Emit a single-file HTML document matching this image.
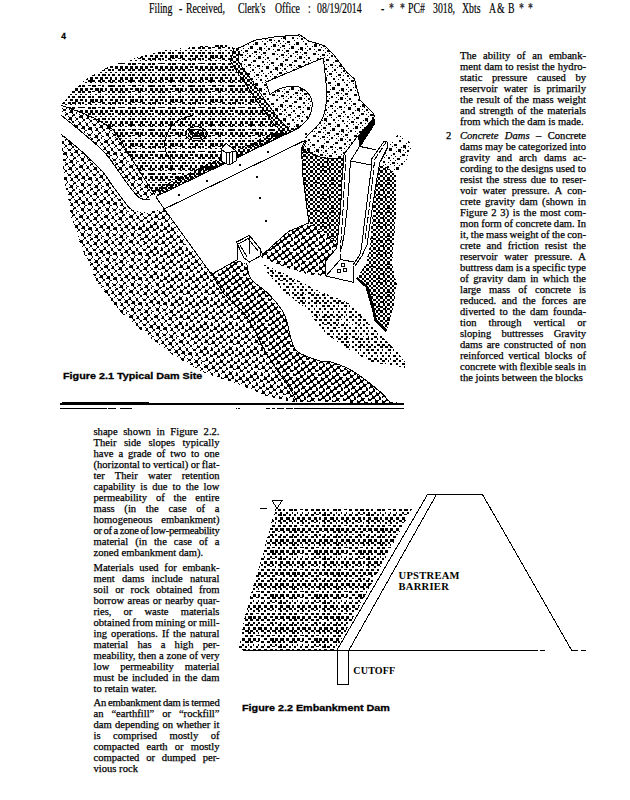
<!DOCTYPE html>
<html lang="en"><head><meta charset="utf-8"><title>Filing</title>
<style>
html,body{margin:0;padding:0;background:#fff;}
body{width:630px;height:800px;position:relative;overflow:hidden;font-family:"Liberation Serif",serif;color:#000;}
.hd{position:absolute;top:-0.3px;-webkit-text-stroke:0.2px #000;left:0;font-size:14.4px;line-height:16px;white-space:nowrap;transform-origin:0 0;transform:scaleX(0.68);}
.col{position:absolute;width:126px;font-size:10.6px;line-height:11px;-webkit-text-stroke:0.25px #000;}
.col div{height:11px;white-space:nowrap;text-align:justify;text-align-last:justify;}
.col div.l{text-align-last:left;}
.col div.gap{height:3.55px;}
.cap{position:absolute;font-family:"Liberation Sans",sans-serif;font-weight:bold;font-size:9.8px;line-height:12px;white-space:nowrap;transform-origin:0 0;transform:scaleX(1.10);-webkit-text-stroke:0.3px #000;}
.lab{position:absolute;font-family:"Liberation Serif",serif;font-weight:bold;font-size:10.5px;line-height:12px;white-space:nowrap;letter-spacing:0.3px;}
svg{position:absolute;left:0;top:0;}
</style></head><body>
<svg width="630" height="800" viewBox="0 0 630 800" shape-rendering="crispEdges"><defs><pattern id="pw" width="40" height="44" patternUnits="userSpaceOnUse"><path d="M0 0h3v3h-3zM5 0h3v3h-3zM10 0h3v2h-3zM15 0h4v3h-4zM20 0h3v3h-3zM25 0h2v3h-2zM30 0h3v3h-3zM35 0h3v3h-3zM2 3h3v2h-3zM8 3h3v2h-3zM12 3h3v1h-3zM18 3h3v2h-3zM22 3h3v1h-3zM28 3h2v2h-2zM32 3h3v2h-3zM38 3h3v2h-3zM-2 3h3v2h-3zM0 6h2v1h-2zM5 6h2v1h-2zM10 6h1v1h-1zM15 6h2v1h-2zM20 6h1v1h-1zM25 6h2v1h-2zM30 6h2v1h-2zM35 6h2v1h-2zM2 8h3v2h-3zM8 8h3v2h-3zM12 8h2v2h-2zM18 8h3v2h-3zM22 8h2v2h-2zM28 8h2v2h-2zM32 8h3v2h-3zM38 8h3v2h-3zM-2 8h3v2h-3zM0 11h3v2h-3zM5 11h2v3h-2zM10 11h4v3h-4zM15 11h3v3h-3zM20 11h3v3h-3zM25 11h2v2h-2zM30 11h3v2h-3zM35 11h3v3h-3zM2 14h2v2h-2zM8 14h3v2h-3zM12 14h3v1h-3zM18 14h3v1h-3zM22 14h3v2h-3zM28 14h3v2h-3zM32 14h4v2h-4zM38 14h3v2h-3zM-2 14h3v2h-3zM0 16h1v1h-1zM5 16h2v1h-2zM10 16h2v1h-2zM15 16h2v1h-2zM20 16h1v1h-1zM25 16h2v1h-2zM30 16h2v1h-2zM35 16h1v1h-1zM2 19h3v1h-3zM8 19h3v2h-3zM12 19h4v2h-4zM18 19h3v1h-3zM22 19h3v2h-3zM28 19h3v2h-3zM32 19h3v2h-3zM38 19h4v1h-4zM-2 19h4v1h-4zM0 22h3v3h-3zM5 22h3v3h-3zM10 22h3v3h-3zM15 22h3v3h-3zM20 22h3v3h-3zM25 22h3v3h-3zM30 22h3v2h-3zM35 22h3v3h-3zM2 25h3v2h-3zM8 25h3v2h-3zM12 25h3v2h-3zM18 25h3v2h-3zM22 25h3v2h-3zM28 25h3v2h-3zM32 25h2v2h-2zM38 25h3v2h-3zM-2 25h3v2h-3zM0 28h1v1h-1zM5 28h2v1h-2zM10 28h2v1h-2zM15 28h2v1h-2zM20 28h2v1h-2zM25 28h2v1h-2zM30 28h2v1h-2zM35 28h2v1h-2zM2 30h3v2h-3zM8 30h3v2h-3zM12 30h3v2h-3zM18 30h2v2h-2zM22 30h4v2h-4zM28 30h2v2h-2zM32 30h3v2h-3zM38 30h2v2h-2zM0 33h3v3h-3zM5 33h3v3h-3zM10 33h3v3h-3zM15 33h3v2h-3zM20 33h3v3h-3zM25 33h3v2h-3zM30 33h2v3h-2zM35 33h2v3h-2zM2 36h2v2h-2zM8 36h4v2h-4zM12 36h3v2h-3zM18 36h3v2h-3zM22 36h3v2h-3zM28 36h3v2h-3zM32 36h3v2h-3zM38 36h3v2h-3zM-2 36h3v2h-3zM0 38h2v1h-2zM5 38h2v1h-2zM10 38h2v1h-2zM15 38h1v1h-1zM20 38h2v1h-2zM25 38h2v1h-2zM30 38h3v1h-3zM35 38h2v1h-2zM2 41h3v2h-3zM8 41h3v1h-3zM12 41h4v2h-4zM18 41h3v1h-3zM22 41h2v2h-2zM28 41h4v2h-4zM32 41h3v2h-3zM38 41h3v2h-3zM-2 41h3v2h-3z"/></pattern><pattern id="pw2" width="44" height="44" patternUnits="userSpaceOnUse"><path d="M0 0h3v3h-3zM6 0h3v2h-3zM11 0h3v3h-3zM16 0h4v3h-4zM22 0h4v3h-4zM28 0h4v3h-4zM33 0h3v3h-3zM38 0h3v3h-3zM3 3h3v2h-3zM8 3h3v2h-3zM14 3h2v1h-2zM19 3h2v2h-2zM25 3h3v2h-3zM30 3h3v2h-3zM36 3h3v2h-3zM41 3h3v2h-3zM0 6h2v1h-2zM6 6h3v2h-3zM11 6h2v2h-2zM16 6h2v2h-2zM22 6h2v2h-2zM28 6h2v2h-2zM33 6h2v2h-2zM38 6h2v2h-2zM3 8h3v2h-3zM8 8h2v2h-2zM14 8h3v2h-3zM19 8h3v2h-3zM25 8h4v2h-4zM30 8h3v2h-3zM36 8h2v2h-2zM41 8h3v2h-3zM0 11h3v3h-3zM6 11h2v3h-2zM11 11h3v3h-3zM16 11h4v3h-4zM22 11h3v3h-3zM28 11h2v3h-2zM33 11h3v3h-3zM38 11h4v3h-4zM3 14h3v2h-3zM8 14h4v2h-4zM14 14h3v2h-3zM19 14h3v2h-3zM25 14h4v2h-4zM30 14h3v2h-3zM36 14h2v2h-2zM41 14h3v2h-3zM0 16h2v2h-2zM6 16h1v2h-1zM11 16h2v2h-2zM16 16h2v2h-2zM22 16h2v2h-2zM28 16h3v2h-3zM33 16h2v2h-2zM38 16h1v2h-1zM3 19h3v2h-3zM8 19h3v1h-3zM14 19h2v2h-2zM19 19h2v2h-2zM25 19h3v2h-3zM30 19h3v2h-3zM36 19h4v1h-4zM41 19h3v2h-3zM0 22h3v2h-3zM6 22h4v3h-4zM11 22h3v3h-3zM16 22h4v3h-4zM22 22h3v3h-3zM28 22h3v3h-3zM33 22h3v3h-3zM38 22h2v3h-2zM3 25h3v2h-3zM8 25h4v2h-4zM14 25h3v2h-3zM19 25h2v2h-2zM25 25h4v2h-4zM30 25h3v2h-3zM36 25h3v1h-3zM41 25h3v2h-3zM0 28h1v2h-1zM6 28h2v2h-2zM11 28h2v2h-2zM16 28h2v2h-2zM22 28h2v2h-2zM28 28h1v2h-1zM33 28h1v2h-1zM38 28h1v2h-1zM3 30h3v2h-3zM8 30h3v1h-3zM14 30h4v2h-4zM19 30h3v2h-3zM25 30h2v2h-2zM30 30h2v2h-2zM36 30h2v2h-2zM41 30h3v2h-3zM0 33h3v3h-3zM6 33h3v3h-3zM11 33h2v3h-2zM16 33h3v3h-3zM22 33h4v3h-4zM28 33h2v3h-2zM33 33h3v3h-3zM38 33h3v3h-3zM3 36h3v2h-3zM8 36h2v2h-2zM14 36h3v2h-3zM19 36h3v2h-3zM25 36h3v2h-3zM30 36h2v2h-2zM36 36h3v2h-3zM41 36h2v2h-2zM0 38h2v2h-2zM6 38h2v1h-2zM11 38h1v2h-1zM16 38h2v2h-2zM22 38h2v2h-2zM28 38h1v2h-1zM33 38h2v2h-2zM38 38h2v2h-2zM3 41h3v2h-3zM8 41h3v2h-3zM14 41h3v2h-3zM19 41h3v2h-3zM25 41h3v2h-3zM30 41h3v2h-3zM36 41h3v1h-3zM41 41h3v2h-3z"/></pattern><pattern id="pl" width="25" height="25" patternUnits="userSpaceOnUse"><path d="M0 0h3v3h-3zM2 3h1v1h-1zM3 24h1v1h-1zM1 18h2v2h-2zM3 21h1v1h-1zM4 17h1v1h-1zM2 11h2v1h-2zM4 14h1v1h-1zM1 12h1v1h-1zM3 4h2v2h-2zM5 7h1v1h-1zM6 3h1v1h-1zM4 22h2v3h-2zM6 0h1v1h-1zM7 21h1v1h-1zM5 15h3v3h-3zM7 18h1v1h-1zM8 14h1v1h-1zM4 16h1v1h-1zM6 8h3v3h-3zM8 11h1v1h-1zM9 7h1v1h-1zM7 1h3v3h-3zM9 4h1v1h-1zM8 19h2v2h-2zM10 22h1v1h-1zM11 18h1v1h-1zM9 12h2v2h-2zM11 15h1v1h-1zM12 11h1v1h-1zM10 5h2v1h-2zM12 8h1v1h-1zM13 4h1v1h-1zM9 6h1v1h-1zM11 23h2v3h-2zM11 -2h2v3h-2zM13 1h1v1h-1zM14 22h1v1h-1zM12 16h2v3h-2zM14 19h1v1h-1zM15 15h1v1h-1zM13 9h3v2h-3zM15 12h1v1h-1zM16 8h1v1h-1zM14 2h3v3h-3zM16 5h1v1h-1zM13 3h1v1h-1zM15 20h2v2h-2zM17 23h1v1h-1zM18 19h1v1h-1zM16 13h2v2h-2zM18 16h1v1h-1zM19 12h1v1h-1zM15 14h1v1h-1zM17 6h1v2h-1zM19 9h1v1h-1zM20 5h1v1h-1zM18 24h3v2h-3zM18 -1h3v2h-3zM20 2h1v1h-1zM21 23h1v1h-1zM19 17h3v3h-3zM21 20h1v1h-1zM22 16h1v1h-1zM20 10h3v3h-3zM22 13h1v1h-1zM23 9h1v1h-1zM21 3h2v3h-2zM23 6h1v1h-1zM24 2h1v1h-1zM22 21h2v2h-2zM24 24h1v1h-1zM0 20h1v1h-1zM23 14h2v2h-2zM0 17h1v1h-1zM1 13h1v1h-1zM22 15h1v1h-1zM24 7h2v2h-2zM-1 7h2v2h-2zM1 10h1v1h-1zM2 6h1v1h-1zM23 8h1v1h-1z"/></pattern><pattern id="pl2" width="25" height="25" patternUnits="userSpaceOnUse"><path d="M0 0h3v3h-3zM3 3h1v1h-1zM3 24h1v1h-1zM24 2h1v1h-1zM1 18h2v2h-2zM4 21h1v1h-1zM4 17h1v1h-1zM2 11h3v2h-3zM5 14h1v1h-1zM5 10h1v1h-1zM3 4h3v2h-3zM6 7h1v1h-1zM6 3h1v1h-1zM4 22h3v3h-3zM7 0h1v1h-1zM7 21h1v1h-1zM3 24h1v1h-1zM5 15h3v3h-3zM8 18h1v1h-1zM8 14h1v1h-1zM4 17h1v1h-1zM6 8h2v3h-2zM9 11h1v1h-1zM9 7h1v1h-1zM5 10h1v1h-1zM7 1h2v3h-2zM10 4h1v1h-1zM10 0h1v1h-1zM6 3h1v1h-1zM8 19h3v1h-3zM11 22h1v1h-1zM11 18h1v1h-1zM9 12h3v2h-3zM12 15h1v1h-1zM8 14h1v1h-1zM10 5h3v2h-3zM13 8h1v1h-1zM13 4h1v1h-1zM11 23h2v3h-2zM11 -2h2v3h-2zM14 1h1v1h-1zM14 22h1v1h-1zM10 0h1v1h-1zM12 16h3v3h-3zM15 19h1v1h-1zM15 15h1v1h-1zM11 18h1v1h-1zM13 9h2v3h-2zM16 12h1v1h-1zM16 8h1v1h-1zM12 11h1v1h-1zM14 2h3v3h-3zM17 5h1v1h-1zM17 1h1v1h-1zM15 20h3v2h-3zM18 23h1v1h-1zM18 19h1v1h-1zM14 22h1v1h-1zM16 13h3v2h-3zM19 16h1v1h-1zM19 12h1v1h-1zM15 15h1v1h-1zM17 6h3v2h-3zM20 9h1v1h-1zM20 5h1v1h-1zM18 24h2v3h-2zM18 -1h2v3h-2zM21 2h1v1h-1zM21 23h1v1h-1zM17 1h1v1h-1zM19 17h3v2h-3zM22 20h1v1h-1zM20 10h3v3h-3zM23 13h1v1h-1zM23 9h1v1h-1zM21 3h3v3h-3zM24 6h1v1h-1zM24 2h1v1h-1zM22 21h3v2h-3zM0 24h1v1h-1zM0 20h1v1h-1zM21 23h1v1h-1zM23 14h3v2h-3zM-2 14h3v2h-3zM1 17h1v1h-1zM1 13h1v1h-1zM22 16h1v1h-1zM24 7h2v2h-2zM-1 7h2v2h-2zM2 10h1v1h-1zM2 6h1v1h-1zM23 9h1v1h-1z"/></pattern><pattern id="pd" width="28" height="28" patternUnits="userSpaceOnUse"><path d="M0 0h2v2h-2zM5 0h2v2h-2zM9 0h3v2h-3zM14 0h2v2h-2zM19 0h2v2h-2zM21 0h1v2h-1zM23 0h3v2h-3zM2 2h3v3h-3zM7 2h2v3h-2zM12 2h2v3h-2zM14 2h2v1h-2zM16 2h3v3h-3zM21 2h2v3h-2zM26 2h2v3h-2zM0 5h2v2h-2zM5 5h2v2h-2zM9 5h3v2h-3zM14 5h2v2h-2zM19 5h2v2h-2zM23 5h3v2h-3zM2 7h3v2h-3zM7 7h2v2h-2zM12 7h2v2h-2zM16 7h3v2h-3zM21 7h2v2h-2zM26 7h2v2h-2zM0 9h2v3h-2zM5 9h2v3h-2zM9 9h3v3h-3zM14 9h2v3h-2zM19 9h2v3h-2zM23 9h3v3h-3zM2 12h3v2h-3zM7 12h2v2h-2zM12 12h2v2h-2zM16 12h3v2h-3zM21 12h2v2h-2zM23 12h3v1h-3zM26 12h2v2h-2zM0 14h2v2h-2zM5 14h2v2h-2zM7 14h2v1h-2zM9 14h3v2h-3zM14 14h2v2h-2zM19 14h2v2h-2zM23 14h3v2h-3zM2 16h3v3h-3zM7 16h2v3h-2zM12 16h2v3h-2zM14 16h2v1h-2zM16 16h3v3h-3zM21 16h2v3h-2zM23 16h3v1h-3zM26 16h2v3h-2zM0 19h2v2h-2zM5 19h2v2h-2zM9 19h3v2h-3zM14 19h2v2h-2zM19 19h2v2h-2zM23 19h3v2h-3zM2 21h3v2h-3zM7 21h2v2h-2zM12 21h2v2h-2zM16 21h3v2h-3zM19 21h1v2h-1zM21 21h2v2h-2zM26 21h2v2h-2zM0 23h2v3h-2zM5 23h2v3h-2zM9 23h3v3h-3zM14 23h2v3h-2zM19 23h2v3h-2zM23 23h3v3h-3zM2 26h3v2h-3zM7 26h2v2h-2zM12 26h2v2h-2zM14 26h2v1h-2zM16 26h3v2h-3zM21 26h2v2h-2zM26 26h2v2h-2z"/></pattern><pattern id="pr" width="41" height="41" patternUnits="userSpaceOnUse"><path d="M0 0h3v2h-3zM2 3h1v1h-1zM1 32h3v2h-3zM3 35h1v1h-1zM4 30h1v1h-1zM2 23h3v2h-3zM4 26h1v1h-1zM5 21h1v1h-1zM7 24h1v1h-1zM3 14h2v2h-2zM6 12h1v1h-1zM8 15h1v1h-1zM4 5h3v3h-3zM7 3h1v1h-1zM5 37h2v2h-2zM7 40h1v1h-1zM8 35h1v1h-1zM10 38h1v1h-1zM6 28h2v2h-2zM8 31h1v1h-1zM9 26h1v1h-1zM7 19h3v2h-3zM10 17h1v1h-1zM8 10h3v2h-3zM10 13h1v1h-1zM11 8h1v1h-1zM13 11h1v1h-1zM9 1h3v3h-3zM10 33h3v2h-3zM12 36h1v1h-1zM13 31h1v1h-1zM15 34h1v1h-1zM11 24h3v2h-3zM13 27h1v1h-1zM16 25h1v1h-1zM12 15h3v3h-3zM15 13h1v1h-1zM17 16h1v1h-1zM13 6h3v3h-3zM15 9h1v1h-1zM18 7h1v1h-1zM14 38h2v2h-2zM16 0h1v1h-1zM19 39h1v1h-1zM15 29h2v2h-2zM17 32h1v1h-1zM16 20h2v2h-2zM18 23h1v1h-1zM19 18h1v1h-1zM21 21h1v1h-1zM17 11h3v2h-3zM19 14h1v1h-1zM20 9h1v1h-1zM18 2h2v2h-2zM20 5h1v1h-1zM21 0h1v1h-1zM19 34h2v2h-2zM21 37h1v1h-1zM22 32h1v1h-1zM24 35h1v1h-1zM20 25h3v3h-3zM23 23h1v1h-1zM21 16h2v2h-2zM23 19h1v1h-1zM22 7h2v2h-2zM25 5h1v1h-1zM27 8h1v1h-1zM23 39h3v2h-3zM25 1h1v1h-1zM26 37h1v1h-1zM28 40h1v1h-1zM24 30h2v2h-2zM26 33h1v1h-1zM27 28h1v1h-1zM25 21h3v2h-3zM27 24h1v1h-1zM26 12h3v2h-3zM29 10h1v1h-1zM31 13h1v1h-1zM27 3h3v3h-3zM30 1h1v1h-1zM32 4h1v1h-1zM28 35h3v2h-3zM31 33h1v1h-1zM29 26h3v3h-3zM31 29h1v1h-1zM32 24h1v1h-1zM34 27h1v1h-1zM30 17h2v2h-2zM33 15h1v1h-1zM31 8h3v2h-3zM34 6h1v1h-1zM36 9h1v1h-1zM32 40h2v2h-2zM32 -1h2v2h-2zM34 2h1v1h-1zM35 38h1v1h-1zM37 0h1v1h-1zM33 31h3v2h-3zM36 29h1v1h-1zM38 32h1v1h-1zM34 22h3v3h-3zM36 25h1v1h-1zM37 20h1v1h-1zM39 23h1v1h-1zM35 13h3v2h-3zM37 16h1v1h-1zM38 11h1v1h-1zM40 14h1v1h-1zM36 4h3v2h-3zM38 7h1v1h-1zM39 2h1v1h-1zM37 36h3v3h-3zM39 39h1v1h-1zM40 34h1v1h-1zM38 27h2v2h-2zM40 30h1v1h-1zM0 25h1v1h-1zM39 18h3v2h-3zM-2 18h3v2h-3zM1 16h1v1h-1zM40 9h3v2h-3zM-1 9h3v2h-3zM1 12h1v1h-1zM2 7h1v1h-1z"/></pattern><pattern id="pb" width="25" height="25" patternUnits="userSpaceOnUse"><path d="M0 0h3v3h-3zM3 0h1v1h-1zM3 3h1v1h-1zM1 18h3v3h-3zM4 18h1v1h-1zM4 21h1v1h-1zM0 20h1v1h-1zM2 11h3v3h-3zM5 11h1v1h-1zM5 14h1v1h-1zM1 13h1v1h-1zM3 4h3v3h-3zM6 4h1v1h-1zM6 7h1v1h-1zM2 6h1v1h-1zM4 22h2v3h-2zM7 22h1v1h-1zM7 0h1v1h-1zM5 15h3v3h-3zM8 15h1v1h-1zM8 18h1v1h-1zM4 17h1v1h-1zM6 8h3v2h-3zM9 8h1v1h-1zM9 11h1v1h-1zM7 1h3v3h-3zM10 1h1v1h-1zM10 4h1v1h-1zM6 3h1v1h-1zM8 19h3v3h-3zM11 19h1v1h-1zM11 22h1v1h-1zM7 21h1v1h-1zM9 12h3v3h-3zM12 12h1v1h-1zM8 14h1v1h-1zM10 5h3v3h-3zM13 5h1v1h-1zM13 8h1v1h-1zM9 7h1v1h-1zM11 23h3v3h-3zM11 -2h3v3h-3zM14 23h1v1h-1zM14 1h1v1h-1zM10 0h1v1h-1zM12 16h3v3h-3zM15 16h1v1h-1zM15 19h1v1h-1zM11 18h1v1h-1zM13 9h3v3h-3zM16 9h1v1h-1zM16 12h1v1h-1zM12 11h1v1h-1zM14 2h3v3h-3zM17 2h1v1h-1zM17 5h1v1h-1zM13 4h1v1h-1zM15 20h3v2h-3zM18 20h1v1h-1zM18 23h1v1h-1zM16 13h2v3h-2zM19 13h1v1h-1zM19 16h1v1h-1zM17 6h3v3h-3zM20 6h1v1h-1zM20 9h1v1h-1zM18 24h3v2h-3zM18 -1h3v2h-3zM21 24h1v1h-1zM21 2h1v1h-1zM19 17h3v3h-3zM22 17h1v1h-1zM22 20h1v1h-1zM20 10h3v3h-3zM23 10h1v1h-1zM23 13h1v1h-1zM19 12h1v1h-1zM21 3h3v3h-3zM24 3h1v1h-1zM24 6h1v1h-1zM20 5h1v1h-1zM22 21h3v3h-3zM0 21h1v1h-1zM0 24h1v1h-1zM21 23h1v1h-1zM23 14h2v3h-2zM1 14h1v1h-1zM1 17h1v1h-1zM22 16h1v1h-1zM24 7h3v3h-3zM-1 7h3v3h-3zM2 7h1v1h-1zM2 10h1v1h-1zM23 9h1v1h-1z"/></pattern><pattern id="pv" width="44" height="44" patternUnits="userSpaceOnUse"><path d="M0 0h2v2h-2zM6 0h1v2h-1zM11 0h2v2h-2zM16 0h2v2h-2zM22 0h3v2h-3zM28 0h2v2h-2zM33 0h2v2h-2zM38 0h1v2h-1zM3 3h2v2h-2zM8 3h3v2h-3zM14 3h1v2h-1zM19 3h2v2h-2zM25 3h1v2h-1zM30 3h2v2h-2zM36 3h2v2h-2zM41 3h3v2h-3zM0 6h2v2h-2zM6 6h3v2h-3zM11 6h1v2h-1zM16 6h3v2h-3zM22 6h3v2h-3zM28 6h2v2h-2zM33 6h2v2h-2zM38 6h1v2h-1zM3 8h2v2h-2zM8 8h2v2h-2zM14 8h3v2h-3zM19 8h3v2h-3zM25 8h2v2h-2zM30 8h3v2h-3zM36 8h1v2h-1zM41 8h3v2h-3zM0 11h2v2h-2zM6 11h3v2h-3zM11 11h3v2h-3zM16 11h3v2h-3zM22 11h2v2h-2zM28 11h3v2h-3zM33 11h1v1h-1zM38 11h2v2h-2zM3 14h2v2h-2zM8 14h1v2h-1zM14 14h2v2h-2zM19 14h3v2h-3zM25 14h3v2h-3zM30 14h1v2h-1zM36 14h1v2h-1zM41 14h1v1h-1zM0 16h1v1h-1zM6 16h2v2h-2zM11 16h2v2h-2zM16 16h3v1h-3zM22 16h2v2h-2zM28 16h2v2h-2zM33 16h3v2h-3zM38 16h2v2h-2zM3 19h2v2h-2zM8 19h2v2h-2zM14 19h2v2h-2zM19 19h2v2h-2zM25 19h3v2h-3zM30 19h2v1h-2zM36 19h2v2h-2zM41 19h2v2h-2zM0 22h3v2h-3zM6 22h1v2h-1zM11 22h2v2h-2zM16 22h1v2h-1zM22 22h3v2h-3zM28 22h2v2h-2zM33 22h2v2h-2zM38 22h2v2h-2zM3 25h2v2h-2zM8 25h2v2h-2zM14 25h2v2h-2zM19 25h3v2h-3zM25 25h1v2h-1zM30 25h2v2h-2zM36 25h3v2h-3zM41 25h2v2h-2zM0 28h3v2h-3zM6 28h1v2h-1zM11 28h1v1h-1zM16 28h1v2h-1zM22 28h3v2h-3zM28 28h2v2h-2zM33 28h2v2h-2zM38 28h2v2h-2zM3 30h3v2h-3zM8 30h3v2h-3zM14 30h3v2h-3zM19 30h2v2h-2zM25 30h1v2h-1zM30 30h3v2h-3zM36 30h3v2h-3zM41 30h1v1h-1zM0 33h2v2h-2zM6 33h3v2h-3zM11 33h2v2h-2zM16 33h2v2h-2zM22 33h3v2h-3zM28 33h2v2h-2zM33 33h3v2h-3zM38 33h3v2h-3zM3 36h2v2h-2zM8 36h3v2h-3zM14 36h2v2h-2zM19 36h2v2h-2zM25 36h3v2h-3zM30 36h3v2h-3zM36 36h3v2h-3zM41 36h1v2h-1zM0 38h2v2h-2zM6 38h3v2h-3zM11 38h2v2h-2zM16 38h3v2h-3zM22 38h2v2h-2zM28 38h3v2h-3zM33 38h3v2h-3zM38 38h3v2h-3zM3 41h2v2h-2zM8 41h1v2h-1zM14 41h3v2h-3zM19 41h3v2h-3zM25 41h2v2h-2zM30 41h1v2h-1zM36 41h3v2h-3zM41 41h1v2h-1z"/></pattern></defs>
<polygon points="61.2,105.2 71.7,91.8 87.6,77.7 109.8,66.3 135.2,58.0 167.0,50.0 198.7,46.4 225.0,44.8 236.7,48.9 234.4,61.0 240.0,70.0 251.0,85.6 264.4,105.6 277.8,123.3 286.7,131.0 286.7,133.5 155.7,196.7 154.8,194.8 149.7,187.0 140.8,173.2 128.0,152.9 121.0,141.0 112.9,130.0 103.3,123.0 88.0,115.4 61.2,105.2" fill="url(#pw)" stroke="none" stroke-width="1" />
<polygon points="61.2,105.2 88.0,115.4 103.3,123.0 112.9,130.0 121.0,141.0 128.0,152.9 140.8,173.2 149.7,187.0 154.8,194.8 149.7,199.8 140.8,198.6 131.9,189.7 121.7,175.7 105.5,153.5 91.9,140.8 75.4,126.8 61.2,115.4" fill="url(#pl)" stroke="none" stroke-width="1" />
<polygon points="61.2,134.4 75.4,145.9 88.0,157.3 102.7,171.9 115.4,189.7 128.0,206.2 132.0,210.0 147.0,212.9 160.5,211.0 164.3,209.0 189.0,247.6 211.0,272.0 224.4,294.4 246.7,316.7 264.4,350.0 280.0,374.4 291.0,390.0 297.0,402.0 293.0,402.0 266.7,396.0 240.0,385.0 205.0,373.0 173.3,355.6 144.8,333.3 119.4,311.0 97.1,282.5 81.3,247.6 71.7,219.0 68.6,200.0 63.8,178.7" fill="url(#pl)" stroke="none" stroke-width="1" />
<polygon points="150.0,212.0 164.3,209.0 189.0,247.6 211.0,272.0 224.4,294.4 246.7,316.7 264.4,350.0 280.0,374.4 291.0,390.0 297.0,402.0 293.0,402.0 266.7,396.0 240.0,385.0 215.0,376.0 185.0,335.0 155.0,275.0 138.0,225.0" fill="#fff" stroke="none" stroke-width="1" />
<polygon points="150.0,212.0 164.3,209.0 189.0,247.6 211.0,272.0 224.4,294.4 246.7,316.7 264.4,350.0 280.0,374.4 291.0,390.0 297.0,402.0 293.0,402.0 266.7,396.0 240.0,385.0 215.0,376.0 185.0,335.0 155.0,275.0 138.0,225.0" fill="url(#pl2)" stroke="none" stroke-width="1" />
<polygon points="211.0,272.0 224.4,294.4 246.7,316.7 264.4,350.0 280.0,374.4 291.0,390.0 297.0,402.0 400.0,403.0 388.0,400.0 378.7,390.5 353.3,371.4 331.0,362.0 320.0,361.0 297.8,352.0 291.0,339.0 284.4,314.4 269.0,294.4 251.0,279.0 246.7,263.3 237.0,260.0 211.4,274.3" fill="url(#pb)" stroke="none" stroke-width="1" />
<polygon points="236.7,48.9 255.6,40.0 275.6,36.7 300.0,34.9 308.9,41.1 324.4,45.6 333.3,54.4 346.7,72.2 354.4,78.9 360.0,100.0 373.3,113.3 374.4,116.7 358.9,136.7 344.4,154.4 343.0,159.0 322.0,157.8 302.0,150.0 305.7,142.9 300.0,128.6 286.7,131.0 277.8,123.3 264.4,105.6 251.0,85.6 240.0,70.0 234.4,61.0" fill="url(#pr)" stroke="#000" stroke-width="1" />
<path d="M265.6 82.2 L323.3 57.8L323.3 57.8C323.5 59.5 323.8 61.3 324.4 67.8C325.0 74.3 327.1 88.2 326.7 96.7C326.3 105.2 325.2 112.6 322.2 118.9C319.2 125.2 312.8 130.3 308.9 134.4C305.0 138.5 300.6 141.8 298.9 143.3L286.7 131.1C288.6 130.5 294.3 129.8 297.8 127.8C301.3 125.8 305.4 122.6 307.8 118.9C310.2 115.2 312.0 109.7 312.2 105.6C312.4 101.5 311.3 97.6 308.9 94.4C306.5 91.2 302.2 87.8 297.8 86.7C293.4 85.6 286.8 86.5 282.2 87.8C277.6 89.1 272.0 93.3 270.0 94.4Z" fill="#fff" stroke="none" stroke-width="1"/>
<polyline points="265.6,82.2 323.3,57.8" fill="none" stroke="#000" stroke-width="1" />
<path d="M323.3 57.8C323.5 59.5 323.8 61.3 324.4 67.8C325.0 74.3 327.1 88.2 326.7 96.7C326.3 105.2 325.2 112.6 322.2 118.9C319.2 125.2 312.8 130.3 308.9 134.4C305.0 138.5 300.6 141.8 298.9 143.3" fill="none" stroke="#000" stroke-width="1" />
<path d="M270.0 94.4C272.0 93.3 277.6 89.1 282.2 87.8C286.8 86.5 293.4 85.6 297.8 86.7C302.2 87.8 306.5 91.2 308.9 94.4C311.3 97.6 312.4 101.5 312.2 105.6C312.0 109.7 310.2 115.2 307.8 118.9C305.4 122.6 301.3 125.8 297.8 127.8C294.3 129.8 288.6 130.5 286.7 131.1" fill="none" stroke="#000" stroke-width="1" />
<polyline points="265.6,82.2 270.0,94.4" fill="none" stroke="#000" stroke-width="1" />
<polygon points="301.4,146.0 322.0,157.8 343.0,159.0 344.1,154.1 342.0,180.0 340.5,210.0 336.7,248.0 325.9,260.8 325.9,276.0 309.0,274.6 283.5,266.7 261.0,257.0 262.9,254.3 288.6,231.4 309.0,222.9 306.5,205.0 303.0,177.0" fill="url(#pd)" stroke="none" stroke-width="1" />
<polygon points="309.0,222.9 337.5,243.0 336.7,248.0 325.9,260.8 325.9,276.0 309.0,274.6 283.5,266.7 261.0,257.0 262.9,254.3 288.6,231.4" fill="#fff" stroke="none" stroke-width="1" />
<polygon points="309.0,222.9 337.5,243.0 336.7,248.0 325.9,260.8 325.9,276.0 309.0,274.6 283.5,266.7 261.0,257.0 262.9,254.3 288.6,231.4" fill="url(#pb)" stroke="none" stroke-width="1" />
<polygon points="379.7,163.0 395.6,173.3 396.5,200.0 395.6,220.0 392.0,264.0 396.7,284.0 393.0,309.0 386.7,331.0 375.6,320.0 373.0,309.0 366.7,286.7 357.0,277.3 365.9,263.3 369.5,248.0 373.0,210.0 375.0,190.0" fill="url(#pd)" stroke="none" stroke-width="1" />
<polygon points="387.8,144.4 397.8,134.4 413.3,144.4 404.4,164.4 395.6,173.3 380.0,164.4" fill="url(#pr)" stroke="none" stroke-width="1" />
<polygon points="261.0,263.5 283.5,273.0 315.0,289.0 353.0,304.8 372.0,327.0 397.8,352.0 407.0,365.0 404.0,368.0 372.0,362.0 347.0,349.0 324.8,333.0 305.7,308.0 283.5,292.0 267.6,273.0" fill="url(#pv)" stroke="none" stroke-width="1" />
<polygon points="164.3,209.0 305.7,140.0 301.4,148.6 303.0,177.0 306.5,205.0 309.0,222.9 288.6,231.4 262.9,254.3 258.0,246.0 250.0,236.0 237.0,243.0 237.0,260.0 211.4,274.3" fill="#fff" stroke="#000" stroke-width="1" />
<polygon points="357.5,136.3 384.0,141.0 387.3,142.0 388.0,146.5 379.7,163.0 375.0,190.0 373.0,210.0 369.5,248.0 365.9,263.3 357.0,277.3 353.8,282.4 325.9,276.0 325.9,260.8 336.7,248.0 340.5,210.0 342.0,180.0 344.1,154.1" fill="#fff" stroke="none" stroke-width="1" />
<polygon points="374.4,116.7 374.8,124.4 360.6,146.5 357.5,136.3" fill="#000" stroke="none" stroke-width="1" />
<polygon points="155.7,196.7 300.0,127.5 305.7,140.0 164.3,209.0" fill="#fff" stroke="none" stroke-width="1" />
<polyline points="155.7,196.7 300.0,127.5" fill="none" stroke="#000" stroke-width="1" />
<polyline points="164.3,209.0 305.7,140.0" fill="none" stroke="#000" stroke-width="1" />
<polyline points="155.7,196.7 164.3,209.0" fill="none" stroke="#000" stroke-width="1" />
<line x1="156" y1="192.5" x2="289" y2="129" stroke="url(#pd)" stroke-width="7"/>
<path d="M61.2 105.2C65.7 106.9 81.0 112.4 88.0 115.4C95.0 118.4 99.1 120.6 103.3 123.0C107.5 125.4 110.0 127.0 112.9 130.0C115.9 133.0 118.5 137.2 121.0 141.0C123.5 144.8 124.7 147.5 128.0 152.9C131.3 158.3 137.2 167.5 140.8 173.2C144.4 178.9 147.4 183.4 149.7 187.0C152.0 190.6 154.0 193.5 154.8 194.8" fill="none" stroke="#000" stroke-width="1" />
<path d="M61.2 115.4C63.6 117.3 70.3 122.6 75.4 126.8C80.5 131.0 86.9 136.4 91.9 140.8C96.9 145.2 100.5 147.7 105.5 153.5C110.5 159.3 117.3 169.7 121.7 175.7C126.1 181.7 128.7 185.9 131.9 189.7C135.1 193.5 137.8 196.9 140.8 198.6C143.8 200.3 148.2 199.6 149.7 199.8" fill="none" stroke="#000" stroke-width="1" />
<path d="M61.2 134.4C63.6 136.3 70.9 142.1 75.4 145.9C79.9 149.7 83.5 153.0 88.0 157.3C92.5 161.6 98.1 166.5 102.7 171.9C107.3 177.3 111.2 184.0 115.4 189.7C119.6 195.4 125.2 202.8 128.0 206.2C130.8 209.6 131.3 209.4 132.0 210.0" fill="none" stroke="#000" stroke-width="1" />
<polyline points="236.7,50.0 234.4,61.0 240.0,70.0 251.0,85.6 264.4,105.6 277.8,123.3 286.7,131.0" fill="none" stroke="#fff" stroke-width="7"/>
<polyline points="236.7,50.0 234.4,61.0 240.0,70.0 251.0,85.6 264.4,105.6 277.8,123.3 286.7,131.0" fill="none" stroke="url(#pd)" stroke-width="7"/>
<polyline points="233.3,49.3 230.9,61.6 237.1,72.0 248.1,87.6 261.5,107.6 275.2,125.6 284.4,133.6" fill="none" stroke="#000" stroke-width="1" />
<polyline points="240.1,50.7 237.9,60.4 242.9,68.0 253.9,83.6 267.3,103.6 280.4,121.0 289.0,128.4" fill="none" stroke="#000" stroke-width="1" />
<polyline points="357.5,136.3 344.1,154.1 342.0,180.0 340.5,210.0 336.7,248.0 325.9,260.8 325.9,276.0 353.8,282.4 353.8,265.9" fill="none" stroke="#000" stroke-width="1" />
<polyline points="346.0,155.0 344.5,180.0 343.0,210.0 340.5,248.0 340.5,259.5" fill="none" stroke="#000" stroke-width="1" stroke-dasharray="7 2"/>
<polyline points="357.5,136.3 359.4,138.0 359.4,146.5 350.5,161.1 348.5,190.0 347.0,210.0 344.0,235.0 341.5,249.0" fill="none" stroke="#000" stroke-width="1" />
<polyline points="384.0,141.4 372.0,158.6 371.4,168.0 368.5,190.0 366.0,210.0 361.4,248.0 360.0,254.4 353.2,264.6" fill="none" stroke="#000" stroke-width="1" />
<polyline points="386.7,141.2 374.6,159.8 371.5,190.0 369.0,210.0 365.0,240.0" fill="none" stroke="#000" stroke-width="1" stroke-dasharray="6 2"/>
<polyline points="384.0,141.4 387.3,142.0 388.0,146.5 379.7,163.0 375.0,190.0 372.0,210.0 367.0,245.0 362.0,255.7 355.0,265.9" fill="none" stroke="#000" stroke-width="1" />
<polyline points="360.0,146.5 375.9,149.7" fill="none" stroke="#000" stroke-width="1" />
<polyline points="351.0,161.0 370.8,165.0" fill="none" stroke="#000" stroke-width="1" />
<polyline points="325.9,276.0 340.5,259.5 353.8,262.0" fill="none" stroke="#000" stroke-width="1" />
<rect x="341" y="263" width="3" height="3" fill="none" stroke="#000" stroke-width="1"/>
<rect x="337" y="269.5" width="3" height="3" fill="none" stroke="#000" stroke-width="1"/>
<rect x="343.5" y="268.5" width="3" height="3" fill="none" stroke="#000" stroke-width="1"/>
<path d="M246.7 263.3C247.4 265.9 247.3 273.8 251.0 279.0C254.7 284.2 263.4 288.5 269.0 294.4C274.6 300.3 280.7 307.0 284.4 314.4C288.1 321.8 288.8 332.7 291.0 339.0C293.2 345.3 293.0 348.3 297.8 352.0C302.6 355.7 314.5 359.3 320.0 361.0C325.5 362.7 325.4 360.3 331.0 362.0C336.6 363.7 345.4 366.6 353.3 371.4C361.2 376.1 372.9 385.7 378.7 390.5C384.5 395.3 386.4 398.4 388.0 400.0" fill="none" stroke="#000" stroke-width="1" />
<polyline points="356.7,278.0 366.7,286.7 373.0,309.0 375.6,320.0 386.7,331.0" fill="none" stroke="#000" stroke-width="2.5" />
<path d="M211.0 272.0C213.2 275.7 218.5 286.9 224.4 294.4C230.3 301.8 240.0 307.4 246.7 316.7C253.4 326.0 258.8 340.4 264.4 350.0C269.9 359.6 275.6 367.7 280.0 374.4C284.4 381.1 288.2 385.4 291.0 390.0C293.8 394.6 296.0 400.0 297.0 402.0" fill="none" stroke="#000" stroke-width="1" />
<ellipse cx="196.2" cy="133.7" rx="10.8" ry="7" fill="none" stroke="#000"/><ellipse cx="196.2" cy="134" rx="7.5" ry="4.6" fill="none" stroke="#000"/>
<path d="M192 131l3 4l3-3l3 4M193 136h7" fill="none" stroke="#000" stroke-width="1.5"/>
<path d="M193.0 115.2C190.2 116.3 180.9 118.2 176.5 121.6C172.1 125.0 168.1 130.7 166.3 135.6C164.5 140.5 164.6 146.4 165.7 150.8C166.8 155.2 171.5 160.3 172.7 162.2" fill="none" stroke="#000" stroke-width="1" />
<polygon points="221.0,149.0 226.0,143.5 231.0,147.0 236.0,151.0 236.0,161.0 229.0,165.0 221.0,161.0" fill="#fff" stroke="#000" stroke-width="1" />
<polyline points="221.0,149.0 226.0,153.0 236.0,151.0" fill="none" stroke="#000" stroke-width="1" />
<polyline points="226.0,153.0 226.0,163.0" fill="none" stroke="#000" stroke-width="1" />
<polyline points="229.5,152.5 229.5,164.0" fill="none" stroke="#000" stroke-width="1" />
<polyline points="232.5,152.0 232.5,163.0" fill="none" stroke="#000" stroke-width="1" />
<polygon points="236.4,242.1 249.3,235.5 260.2,248.8 260.2,256.0 249.5,262.0 244.0,258.0" fill="#fff" stroke="#000" stroke-width="1" />
<polyline points="238.5,244.0 248.0,238.5 258.5,251.5" fill="none" stroke="#000" stroke-width="1" />
<polyline points="249.3,235.5 249.3,253.6" fill="none" stroke="#000" stroke-width="1" />
<polyline points="240.0,245.0 247.0,257.0" fill="none" stroke="#000" stroke-width="1" />
<rect x="256" y="176" width="2.4" height="2.4"/>
<rect x="259" y="196.5" width="2.4" height="2.4"/>
<rect x="265" y="220" width="2.4" height="2.4"/>
<rect x="305" y="132.5" width="2.4" height="2.4"/>
<rect x="178" y="194" width="2.4" height="2.4"/>
<rect x="206" y="180" width="2.4" height="2.4"/>
<rect x="239" y="164" width="2.4" height="2.4"/>
<rect x="267" y="151" width="2.4" height="2.4"/>
<polygon points="275.4,508.6 412.0,508.6 335.5,650.4 238.7,650.4 244.0,620.0 252.0,590.0 261.0,560.0 268.0,535.0" fill="url(#pw2)" stroke="none" stroke-width="1" />
<polyline points="243.0,650.5 537.5,650.5" fill="none" stroke="#000" stroke-width="1" />
<polyline points="540.0,650.5 545.0,650.5" fill="none" stroke="#000" stroke-width="1" />
<polyline points="571.0,650.5 578.0,650.5" fill="none" stroke="#000" stroke-width="1" />
<polyline points="580.5,650.5 585.5,650.5" fill="none" stroke="#000" stroke-width="1" />
<polyline points="337.0,650.0 427.5,494.5 482.5,494.5 571.5,650.0" fill="none" stroke="#000" stroke-width="1" />
<polyline points="349.0,650.0 436.5,494.5" fill="none" stroke="#000" stroke-width="1" />
<polyline points="337.5,650.0 337.5,684.5 348.5,684.5 348.5,650.0" fill="none" stroke="#000" stroke-width="1" />
<polyline points="272.0,500.5 282.0,500.5 277.0,508.5 272.0,500.5" fill="none" stroke="#000" stroke-width="1" />
<polyline points="259.5,508.5 267.0,508.5" fill="none" stroke="#000" stroke-width="1.2" />
<rect x="60" y="403" width="343.6" height="2"/><rect x="62" y="402" width="87" height="1"/><rect x="60" y="408" width="46.5" height="1"/><rect x="108" y="408" width="8" height="1"/><rect x="120" y="408" width="12" height="1"/><rect x="236" y="408" width="1" height="1"/><rect x="238" y="408" width="2" height="1"/><rect x="266" y="408" width="4" height="1"/><rect x="272" y="408" width="3" height="1"/><rect x="277" y="408" width="7" height="1"/><rect x="286" y="408" width="7" height="1"/><rect x="294" y="408" width="109.5" height="1"/></svg>
<span class="hd" style="left:149px">Filing</span>
<span class="hd" style="left:178.9px">-</span>
<span class="hd" style="left:186.3px">Received,</span>
<span class="hd" style="left:238px">Clerk's</span>
<span class="hd" style="left:275.3px">Office</span>
<span class="hd" style="left:308.3px">:</span>
<span class="hd" style="left:317.2px">08/19/2014</span>
<span class="hd" style="left:381.2px">-</span>
<span class="hd" style="left:389.4px">*</span>
<span class="hd" style="left:400px">*</span>
<span class="hd" style="left:408px">PC#</span>
<span class="hd" style="left:433.3px">3018,</span>
<span class="hd" style="left:462.3px">Xbts</span>
<span class="hd" style="left:489px">A</span>
<span class="hd" style="left:497.3px">&amp;</span>
<span class="hd" style="left:508.3px">B</span>
<span class="hd" style="left:519.4px">*</span>
<span class="hd" style="left:527.6px">*</span>
<div class="col rc" style="left:460px;top:49.5px">
<div>The ability of an embank-</div>
<div>ment dam to resist the hydro-</div>
<div>static pressure caused by</div>
<div>reservoir water is primarily</div>
<div>the result of the mass weight</div>
<div>and strength of the materials</div>
<div class="l">from which the dam is made.</div>
<div class="gap"></div>
<div><i>Concrete Dams</i> – Concrete</div>
<div style="word-spacing:-0.18px">dams may be categorized into</div>
<div>gravity and arch dams ac-</div>
<div style="word-spacing:-0.09px">cording to the designs used to</div>
<div>resist the stress due to reser-</div>
<div>voir water pressure. A con-</div>
<div>crete gravity dam (shown in</div>
<div>Figure 2 3) is the most com-</div>
<div style="word-spacing:-0.26px">mon form of concrete dam. In</div>
<div style="word-spacing:-0.36px">it, the mass weight of the con-</div>
<div>crete and friction resist the</div>
<div>reservoir water pressure. A</div>
<div style="word-spacing:-0.32px">buttress dam is a specific type</div>
<div>of gravity dam in which the</div>
<div>large mass of concrete is</div>
<div>reduced. and the forces are</div>
<div>diverted to the dam founda-</div>
<div>tion through vertical or</div>
<div>sloping buttresses Gravity</div>
<div>dams are constructed of non</div>
<div>reinforced vertical blocks of</div>
<div style="word-spacing:-0.18px">concrete with flexible seals in</div>
<div class="l">the joints between the blocks</div>
</div><div class="col" style="left:446px;top:129.7px;width:10px"><div class="l">2</div></div>
<div class="col lc" style="left:93.5px;top:426px">
<div>shape shown in Figure 2.2.</div>
<div>Their side slopes typically</div>
<div>have a grade of two to one</div>
<div style="word-spacing:-0.32px">(horizontal to vertical) or flat-</div>
<div>ter Their water retention</div>
<div>capability is due to the low</div>
<div>permeability of the entire</div>
<div>mass (in the case of a</div>
<div>homogeneous embankment)</div>
<div style="letter-spacing:-0.253px;word-spacing:-0.69px">or of a zone of low-permeability</div>
<div>material (in the case of a</div>
<div class="l">zoned embankment dam).</div>
<div class="gap"></div>
<div>Materials used for embank-</div>
<div>ment dams include natural</div>
<div>soil or rock obtained from</div>
<div>borrow areas or nearby quar-</div>
<div>ries, or waste materials</div>
<div style="word-spacing:-0.33px">obtained from mining or mill-</div>
<div>ing operations. If the natural</div>
<div>material has a high per-</div>
<div>meability, then a zone of very</div>
<div>low permeability material</div>
<div>must be included in the dam</div>
<div class="l">to retain water.</div>
<div class="gap"></div>
<div style="letter-spacing:-0.186px;word-spacing:-0.54px">An embankment dam is termed</div>
<div>an “earthfill” or “rockfill”</div>
<div>dam depending on whether it</div>
<div>is comprised mostly of</div>
<div>compacted earth or mostly</div>
<div>compacted or dumped per-</div>
<div class="l">vious rock</div>
</div><div class="cap" style="left:62.5px;top:370.1px" id="cap1">Figure 2.1 Typical Dam Site</div>
<div class="cap" style="left:242.3px;top:702.1px" id="cap2">Figure 2.2 Embankment Dam</div>
<div class="lab" style="left:398.5px;top:570.4px" id="lab1">UPSTREAM</div>
<div class="lab" style="left:398.5px;top:581.4px" id="lab2">BARRIER</div>
<div class="lab" style="left:353.3px;top:664.6px;font-size:10px;letter-spacing:0.2px" id="lab3">CUTOFF</div>
<div class="cap" style="left:61.3px;top:30.3px;font-size:8.4px;transform:none" id="pg4">4</div>
</body></html>
